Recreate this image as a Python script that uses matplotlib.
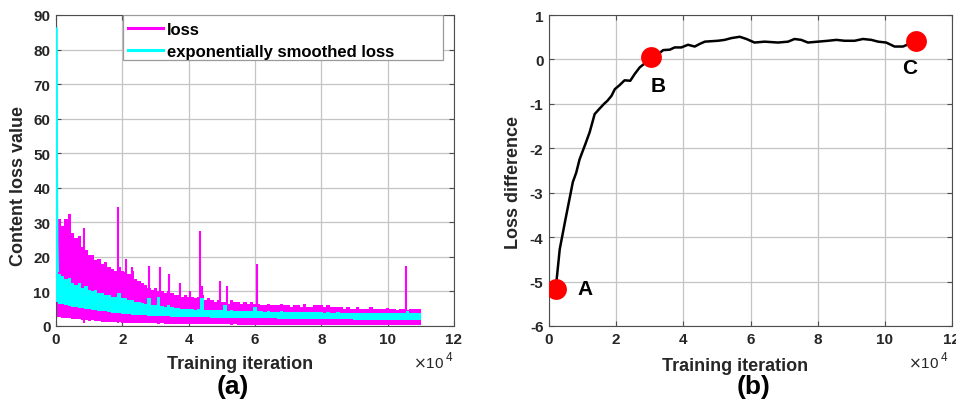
import matplotlib
matplotlib.use("Agg")
import matplotlib.pyplot as plt
from matplotlib.lines import Line2D
from matplotlib.patches import Rectangle

plt.rcParams['font.family'] = ['Liberation Sans', 'DejaVu Sans']
plt.rcParams['axes.unicode_minus'] = False

# ---------------- data (iteration in units of 1e4) ----------------
# panel (a): envelope of the raw loss, read every 1000 iterations (0 .. 11e4)
loss_iter = [i / 10 for i in range(111)]
loss_upper = [30, 31, 29, 31, 32.5, 27, 25.5, 26, 23, 22,
              20.5, 20.5, 19, 19.5, 18, 18.5, 17, 16.5, 16, 17,
              16, 15.5, 15, 16, 13.5, 13, 12.5, 12, 11, 10.5,
              11, 10, 10, 9.5, 10, 9.5, 9, 9, 8.5, 9,
              8.5, 8.5, 8, 8.5, 9, 7.5, 8, 7.5, 7, 7.5,
              7, 7, 6.5, 7.5, 7, 7, 6.5, 7, 6.5, 7,
              6.5, 6.5, 6, 6, 6.5, 6, 6, 6, 6.5, 6,
              6, 5.5, 6, 6, 5.5, 6.5, 5.5, 5.5, 6, 6,
              6, 5.5, 6, 5.5, 5.5, 5.5, 5.5, 5, 5.5, 5,
              5, 5.5, 5, 5, 5, 5.5, 5, 4.8, 5, 4.8,
              5.2, 4.8, 4.8, 4.6, 5, 4.8, 4.5, 5, 4.8, 5, 4.8]
loss_lower = [2.5, 2.6, 2.4, 2.3, 2.2, 2.0, 2.1, 1.9, 1.8, 1.7,
              1.5, 1.6, 1.5, 1.4, 1.3, 1.3, 1.2, 1.2, 1.1, 1.1,
              1.0, 1.0, 0.9, 1.0, 0.9, 0.9, 0.8, 0.9, 0.8, 0.8,
              0.8, 0.7, 0.8, 0.7, 0.7, 0.7, 0.7, 0.6, 0.7, 0.6,
              0.6, 0.6, 0.6, 0.5, 0.6, 0.5, 0.5, 0.5, 0.5, 0.5,
              0.5, 0.5, 0.5, 0.4, 0.5, 0.4, 0.4, 0.4, 0.4, 0.4,
              0.4, 0.4, 0.4, 0.4, 0.4, 0.4, 0.4, 0.4, 0.4, 0.4,
              0.4, 0.3, 0.4, 0.3, 0.3, 0.3, 0.3, 0.3, 0.3, 0.3,
              0.3, 0.3, 0.3, 0.3, 0.3, 0.3, 0.3, 0.3, 0.3, 0.3,
              0.3, 0.3, 0.3, 0.3, 0.3, 0.3, 0.3, 0.3, 0.3, 0.3,
              0.2, 0.2, 0.2, 0.2, 0.2, 0.2, 0.2, 0.2, 0.2, 0.2, 0.2]
loss_spike_iter = [0.85, 1.88, 2.1, 2.3, 2.8, 3.15, 3.4, 3.75, 4.05, 4.35, 4.4, 4.95, 5.15, 6.05, 10.55]
loss_spike_val = [28.5, 34.5, 19.5, 17, 17.5, 17, 15, 12.5, 10, 27.5, 11.5, 13, 11.5, 18, 17.3]

# exponentially smoothed loss band
smooth_upper = [16, 15, 14.5, 13.5, 14, 12.5, 12, 12.5, 11, 11.5,
                10.5, 10, 10.5, 9.5, 9.5, 9, 9, 8.5, 8.5, 9.5,
                8, 8, 7.5, 7.5, 7, 7, 6.8, 6.5, 8, 6.2,
                6, 8.5, 5.8, 5.6, 6, 5.4, 5.2, 5.2, 5, 5,
                4.9, 4.8, 4.7, 5, 8, 4.6, 4.7, 4.6, 4.5, 4.6,
                4.5, 6, 4.4, 4.5, 4.4, 4.3, 4.4, 4.3, 4.3, 4.2,
                5.5, 4.2, 4.2, 4.1, 4.2, 4.1, 4.1, 4.1, 4.2, 4.1,
                4.1, 4.0, 4.1, 4.0, 4.0, 4.1, 4.0, 4.0, 4.0, 4.0,
                4.0, 3.9, 4.0, 3.9, 3.9, 4.0, 3.9, 3.9, 3.9, 3.9,
                3.9, 3.9, 3.8, 3.9, 3.8, 3.9, 3.8, 3.8, 3.8, 3.8,
                3.8, 3.8, 3.8, 3.7, 3.8, 3.8, 4.3, 3.8, 3.7, 3.8, 3.7]
smooth_lower = [7.0, 6.5, 6.3, 6.0, 5.9, 5.5, 5.4, 5.2, 5.1, 5.0,
                4.8, 4.7, 4.6, 4.4, 4.3, 4.2, 4.0, 3.9, 3.8, 3.7,
                3.6, 3.5, 3.4, 3.3, 3.3, 3.2, 3.1, 3.1, 3.0, 3.0,
                2.9, 2.9, 2.8, 2.8, 2.8, 2.7, 2.7, 2.7, 2.6, 2.6,
                2.6, 2.6, 2.5, 2.5, 2.5, 2.5, 2.5, 2.4, 2.4, 2.4,
                2.4, 2.4, 2.4, 2.3, 2.3, 2.3, 2.3, 2.3, 2.3, 2.3,
                2.3, 2.2, 2.2, 2.2, 2.2, 2.2, 2.2, 2.1, 2.1, 2.1,
                2.1, 2.1, 2.1, 2.1, 2.0, 2.0, 2.0, 2.0, 2.0, 2.0,
                2.0, 2.0, 1.9, 1.9, 1.9, 1.9, 1.9, 1.9, 1.9, 1.9,
                1.8, 1.8, 1.8, 1.8, 1.8, 1.8, 1.8, 1.8, 1.8, 1.8,
                1.7, 1.7, 1.7, 1.7, 1.7, 1.7, 1.7, 1.7, 1.7, 1.7, 1.7]
smooth_head_iter = [0.01, 0.02, 0.03, 0.05]
smooth_head_val = [86, 45, 24, 16]

# panel (b): loss difference curve
diff_iter = [0.2, 0.32, 0.49, 0.71, 0.81, 0.91, 1.08, 1.21, 1.36, 1.49, 1.64, 1.74, 1.86, 1.96,
             2.1, 2.25, 2.42, 2.55, 2.7, 2.85, 3.03, 3.25, 3.4, 3.6, 3.74, 3.94, 4.14, 4.34,
             4.49, 4.64, 4.83, 5.03, 5.23, 5.43, 5.68, 5.88, 6.12, 6.42, 6.82, 7.12, 7.31,
             7.51, 7.71, 8.01, 8.31, 8.56, 8.8, 9.1, 9.35, 9.6, 9.8, 10.04, 10.29, 10.54, 10.94]
diff_val = [-5.16, -4.27, -3.6, -2.76, -2.55, -2.25, -1.91, -1.64, -1.23, -1.12, -1.0, -0.93,
            -0.82, -0.67, -0.58, -0.47, -0.48, -0.33, -0.18, -0.09, 0.05, 0.12, 0.21, 0.22,
            0.27, 0.27, 0.33, 0.29, 0.35, 0.4, 0.41, 0.42, 0.44, 0.48, 0.51, 0.46, 0.38, 0.4,
            0.38, 0.4, 0.46, 0.44, 0.38, 0.4, 0.42, 0.44, 0.42, 0.42, 0.46, 0.44, 0.4, 0.38,
            0.29, 0.29, 0.42]
point_labels = ['A', 'B', 'C']
point_iter = [0.2, 3.03, 10.94]
point_val = [-5.16, 0.05, 0.42]
label_iter = [1.06, 3.24, 10.73]
label_val = [-5.15, -0.58, -0.18]

legend_labels = ['loss', 'exponentially smoothed loss']
x_ticks = [0, 2, 4, 6, 8, 10, 12]

# ---------------- figure ----------------
W, H = 956, 402
fig = plt.figure(figsize=(W / 100, H / 100), dpi=100)


def axes_px(x0, x1, ytop, ybot):
    return fig.add_axes([x0 / W, 1 - ybot / H, (x1 - x0) / W, (ybot - ytop) / H])


ax1 = axes_px(56, 454, 16, 327)
ax2 = axes_px(549, 952, 16, 327)

TXT = '#262626'
GRID = '#c4c4c4'
MAG = '#ff00ff'
CYA = '#00ffff'


def style(ax):
    ax.grid(True, color=GRID, linewidth=0.9, zorder=0)
    ax.set_axisbelow(True)
    for s in ax.spines.values():
        s.set_color('#4d4d4d')
        s.set_linewidth(0.8)
    ax.tick_params(direction='in', length=3.5, width=0.8, color='#4d4d4d',
                   top=True, right=True, labelsize=11, labelcolor=TXT, pad=4)
    for lab in ax.get_xticklabels() + ax.get_yticklabels():
        lab.set_fontweight('bold')


# panel (a)
ax1.fill_between(loss_iter, loss_lower, loss_upper, step='mid', color=MAG, linewidth=0, zorder=2)
ax1.vlines(loss_spike_iter, [1.0] * len(loss_spike_iter), loss_spike_val,
           colors=MAG, linewidth=1.5, zorder=2)
ax1.fill_between(loss_iter, smooth_lower, smooth_upper, step='mid', color=CYA, linewidth=0, zorder=3)
ax1.plot(smooth_head_iter, smooth_head_val, color=CYA, linewidth=2.0, zorder=3)
ax1.vlines(smooth_head_iter[:1], smooth_lower[0], smooth_head_val[0], colors=CYA,
           linewidth=1.6, zorder=3)
ax1.set_xlim(0, 12)
ax1.set_ylim(0, 90)
ax1.set_xticks(x_ticks)
ax1.set_yticks(range(0, 91, 10))
style(ax1)
ax1.set_xlabel('Training iteration', fontsize=13, fontweight='bold', color=TXT)
ax1.xaxis.set_label_coords((239.6 - 56) / 398, -0.093)
ax1.set_ylabel('Content loss value', fontsize=13, fontweight='bold', color=TXT)
ax1.yaxis.set_label_coords(-0.073, (327 - 186) / 311)

# legend: MATLAB-style wide box
ax1.add_patch(Rectangle(((123 - 56) / 398, (327 - 61) / 311), (443 - 123) / 398, 45 / 311,
                        transform=ax1.transAxes, facecolor='white', edgecolor='#9a9a9a',
                        linewidth=0.9, zorder=5))
handles = [Line2D([], [], color=MAG, linewidth=2.2),
           Line2D([], [], color=CYA, linewidth=2.2)]
leg = ax1.legend(handles, legend_labels, loc='upper left',
                 bbox_to_anchor=((121 - 56) / 398, 1.0), borderaxespad=0, frameon=False,
                 prop={'weight': 'bold', 'size': 12}, handlelength=2.1, handletextpad=0.25,
                 labelspacing=0.45, borderpad=0.4)
leg.set_zorder(6)
for t in leg.get_texts():
    t.set_color('black')

# panel (b)
ax2.plot(diff_iter, diff_val, color='black', linewidth=1.8, zorder=3)
ax2.plot(point_iter, point_val, 'o', color='red', markersize=15, markeredgewidth=0, zorder=4)
for lab, lx, ly in zip(point_labels, label_iter, label_val):
    ax2.text(lx, ly, lab, fontsize=15, fontweight='bold', ha='center', va='center', color='black')
ax2.set_xlim(0, 12)
ax2.set_ylim(-6, 1)
ax2.set_xticks(x_ticks)
ax2.set_yticks(range(-6, 2))
style(ax2)
ax2.set_xlabel('Training iteration', fontsize=13, fontweight='bold', color=TXT)
ax2.xaxis.set_label_coords((734.7 - 549) / 403, -0.101)
ax2.set_ylabel('Loss difference', fontsize=13, fontweight='bold', color=TXT)
ax2.yaxis.set_label_coords(-0.068, (327 - 182.5) / 311)

# exponent labels and panel captions
for xl in (413, 908):
    fig.text(xl / W, 1 - 368 / H, r'$\times$10', fontsize=11, color=TXT, ha='left', va='baseline')
    fig.text((xl + 33) / W, 1 - 361 / H, '4', fontsize=8.5, color=TXT, ha='left', va='baseline')
fig.text(232.7 / W, 1 - 387 / H, '(a)', fontsize=19, fontweight='bold', ha='center', va='center')
fig.text(753.8 / W, 1 - 387 / H, '(b)', fontsize=19, fontweight='bold', ha='center', va='center')

fig.savefig('out.png', dpi=100)
